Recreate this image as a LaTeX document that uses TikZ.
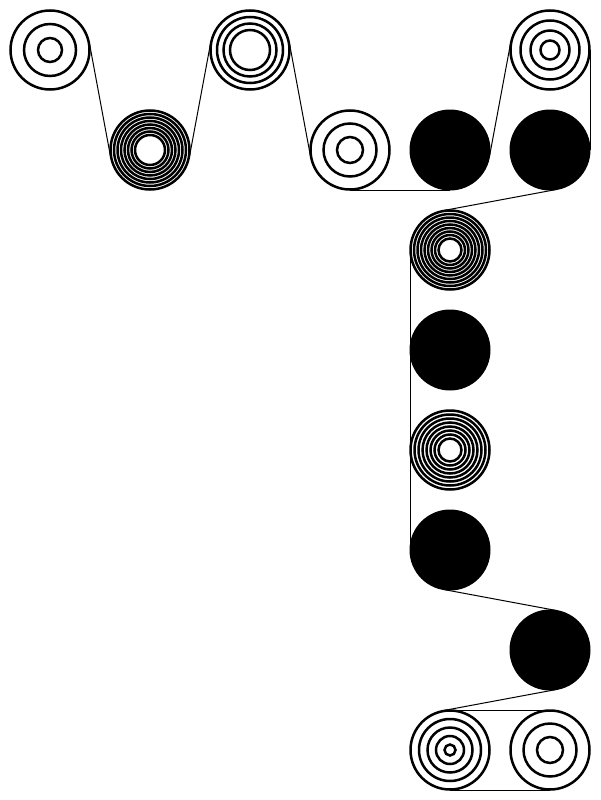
\documentclass[tikz,border=0pt]{standalone}
\begin{document}
\begin{tikzpicture}[x=1pt,y=1pt,
  rollnode/.style={circle,inner sep=0pt,outer sep=0pt,minimum size=80pt,draw=none},
  ring/.style={draw=black,line width=2.5pt},
  solidroll/.style={fill=black},
  tape/.style={draw=black,line width=1pt}]
\useasboundingbox[fill=white] (0,0) rectangle (600,-800);
% roll nodes
\node[rollnode] (c1) at (50,-50) {};
\node[rollnode] (c2) at (150,-150) {};
\node[rollnode] (c3) at (250,-50) {};
\node[rollnode] (c4) at (350,-150) {};
\node[rollnode] (c5) at (450,-150) {};
\node[rollnode] (c6) at (550,-150) {};
\node[rollnode] (c7) at (550,-50) {};
\node[rollnode] (c8) at (450,-250) {};
\node[rollnode] (c9) at (450,-350) {};
\node[rollnode] (c10) at (450,-450) {};
\node[rollnode] (c11) at (450,-550) {};
\node[rollnode] (c12) at (550,-650) {};
\node[rollnode] (c13) at (450,-750) {};
\node[rollnode] (c14) at (550,-750) {};
% tape path
\draw[tape] (c1.10.55) -- (c2.190.55);
\draw[tape] (c2.349.45) -- (c3.169.45);
\draw[tape] (c3.10.55) -- (c4.190.55);
\draw[tape] (c4.south) -- (c5.south);
\draw[tape] (c5.349.45) -- (c7.169.45);
\draw[tape] (c7.east) -- (c6.east);
\draw[tape] (c6.280.55) -- (c8.100.55);
\draw[tape] (c8.west) -- (c11.west);
\draw[tape] (c11.259.45) -- (c12.79.45);
\draw[tape] (c12.280.55) -- (c13.100.55);
\draw[tape] (c13.north) -- (c14.north);
\draw[tape] (c13.south) -- (c14.south);
% rolls
\foreach \r in {39.5,26,12} \draw[ring] (c1.center) circle (\r pt);
\foreach \r in {39.5,36,32.5,29,25.5,22,18.5,15} \draw[ring] (c2.center) circle (\r pt);
\foreach \r in {39.5,33,26.5,20} \draw[ring] (c3.center) circle (\r pt);
\foreach \r in {39.5,26.5,13} \draw[ring] (c4.center) circle (\r pt);
\fill[solidroll] (c5.center) circle (40.5pt);
\fill[solidroll] (c6.center) circle (40.5pt);
\foreach \r in {39.5,29.5,19.5,9.5} \draw[ring] (c7.center) circle (\r pt);
\foreach \r in {39.5,36,32.5,29,25.5,22,18.5,15,11.5} \draw[ring] (c8.center) circle (\r pt);
\fill[solidroll] (c9.center) circle (40.5pt);
\foreach \r in {39.5,35.5,31.5,27.5,23.5,19.5,15.5,11.5} \draw[ring] (c10.center) circle (\r pt);
\fill[solidroll] (c11.center) circle (40.5pt);
\fill[solidroll] (c12.center) circle (40.5pt);
\foreach \r in {39.5,31,22.5,14,5.5} \draw[ring] (c13.center) circle (\r pt);
\foreach \r in {39.5,26.5,13} \draw[ring] (c14.center) circle (\r pt);
\end{tikzpicture}
\end{document}
